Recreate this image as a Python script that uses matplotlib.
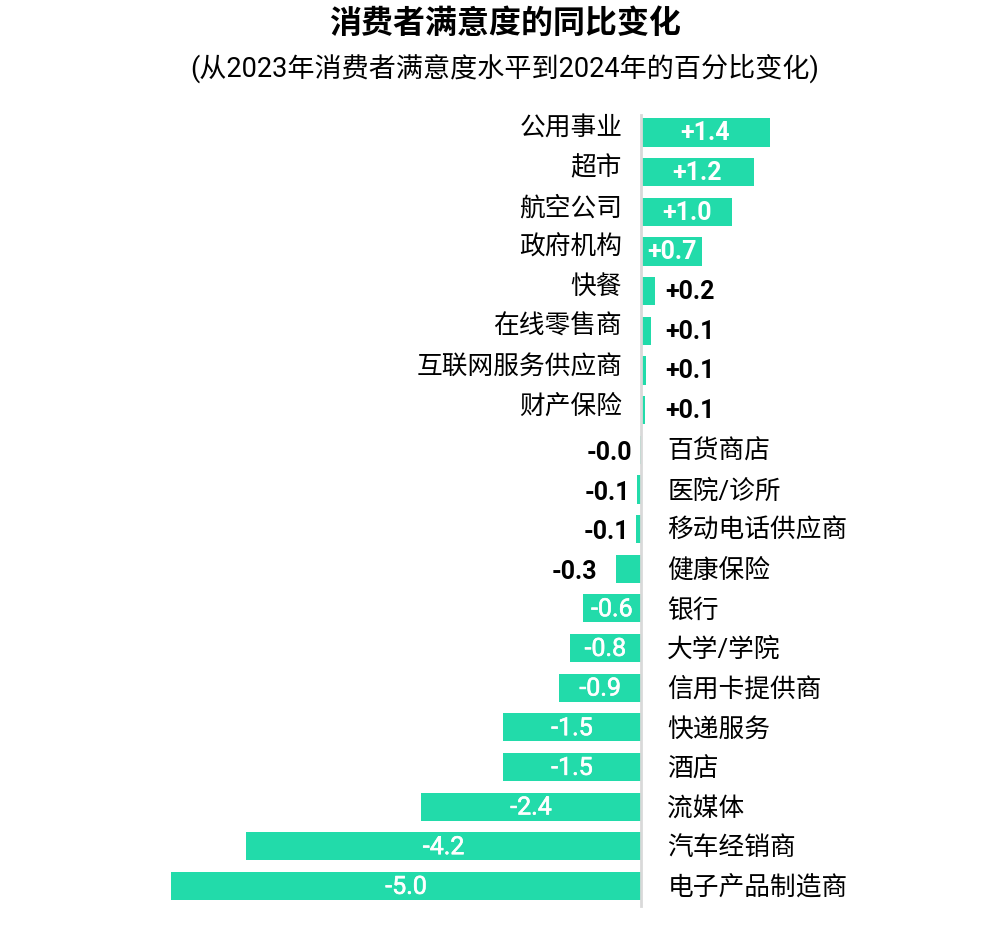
import matplotlib.pyplot as plt
import matplotlib.patheffects as pe

plt.rcParams['font.family'] = ['Roboto', 'Noto Sans CJK SC', 'DejaVu Sans']

# data
categories = [
    "公用事业", "超市", "航空公司", "政府机构", "快餐", "在线零售商",
    "互联网服务供应商", "财产保险", "百货商店", "医院/诊所", "移动电话供应商",
    "健康保险", "银行", "大学/学院", "信用卡提供商", "快递服务", "酒店",
    "流媒体", "汽车经销商", "电子产品制造商",
]
values = [
    1.37, 1.2, 0.97, 0.65, 0.15, 0.11, 0.05, 0.04, -0.01, -0.04, -0.05,
    -0.27, -0.62, -0.76, -0.87, -1.47, -1.47, -2.34, -4.2, -5.0,
]
value_labels = [
    "+1.4", "+1.2", "+1.0", "+0.7", "+0.2", "+0.1", "+0.1", "+0.1", "-0.0",
    "-0.1", "-0.1", "-0.3", "-0.6", "-0.8", "-0.9", "-1.5", "-1.5", "-2.4",
    "-4.2", "-5.0",
]

BAR_COLOR = "#22DBAA"

fig = plt.figure(figsize=(10, 9.4), dpi=100)
ax = fig.add_axes([0, 0, 1, 1])

y = list(range(len(categories)))
ax.barh(y, values, height=0.71, color=BAR_COLOR)

# zero line
ax.plot([0, 0], [-0.45, 19.5], color="#d9d9d9", lw=2, zorder=3)

for i, (cat, v, lab) in enumerate(zip(categories, values, value_labels)):
    if v > 0:
        ax.text(-0.2, i - 0.1, cat, ha="right", va="center", fontsize=18.5)
    else:
        ax.text(0.28, i + 0.05, cat, ha="left", va="center", fontsize=18.5)

    if abs(v) >= 0.5:
        if v > 0:
            ax.text(v / 2, i + 0.02, lab, ha="center", va="center",
                    color="white", fontsize=18, fontweight="bold")
        else:
            ax.text(v / 2, i + 0.02, lab, ha="center", va="center",
                    color="white", fontsize=18,
                    path_effects=[pe.withStroke(linewidth=0.45,
                                                foreground="white")])
    elif v > 0:
        ax.annotate(lab, (max(v, 0.15), i + 0.02), xytext=(10, 0),
                    textcoords="offset pixels", ha="left", va="center",
                    fontsize=18, fontweight="bold", color="black")
    else:
        ax.annotate(lab, (min(v, -0.05), i + 0.08),
                    xytext=(-(4 + 55 * abs(v)), 0),
                    textcoords="offset pixels", ha="right", va="center",
                    fontsize=18, fontweight="bold", color="black")

ax.set_xlim(-641 / 94, (1000 - 641) / 94)
ax.set_ylim((940 - 132.5) / 39.66, -132.5 / 39.66)
ax.axis("off")

fig.text(0.505, 1 - 24 / 940, "消费者满意度的同比变化", ha="center", va="center",
         fontsize=23, fontweight="bold")
fig.text(0.505, 1 - 68 / 940, "(从2023年消费者满意度水平到2024年的百分比变化)",
         ha="center", va="center", fontsize=19.5)

fig.savefig("out.png", dpi=100)
